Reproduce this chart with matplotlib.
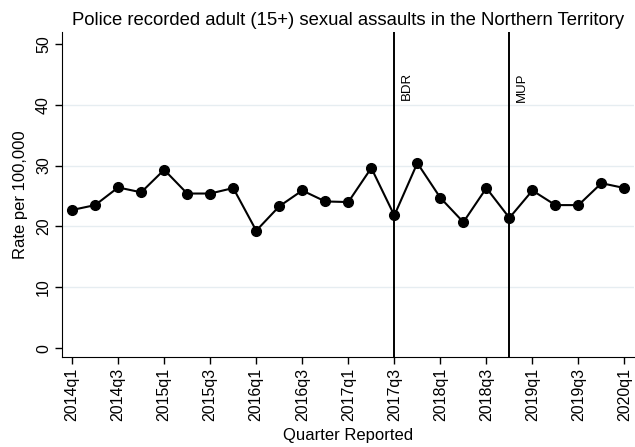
import matplotlib
matplotlib.use("Agg")
import matplotlib.pyplot as plt

plt.rcParams['font.family'] = ['Liberation Sans', 'DejaVu Sans']

# quarterly data 2014q1 - 2020q1
quarters = ['2014q1', '2014q2', '2014q3', '2014q4',
            '2015q1', '2015q2', '2015q3', '2015q4',
            '2016q1', '2016q2', '2016q3', '2016q4',
            '2017q1', '2017q2', '2017q3', '2017q4',
            '2018q1', '2018q2', '2018q3', '2018q4',
            '2019q1', '2019q2', '2019q3', '2019q4',
            '2020q1']
rate = [22.7, 23.5, 26.4, 25.6,
        29.3, 25.4, 25.4, 26.3,
        19.3, 23.3, 25.9, 24.1,
        24.0, 29.6, 21.8, 30.4,
        24.7, 20.7, 26.3, 21.4,
        25.9, 23.5, 23.5, 27.1,
        26.3]
events = ['2017q3', '2018q4']
event_labels = ['BDR', 'MUP']

x = list(range(len(quarters)))

fig = plt.figure(figsize=(6.35, 4.47), dpi=100)
ax = fig.add_axes([0.098, 0.202, 0.901, 0.726])

for g in [10, 20, 30, 40]:
    ax.axhline(g, color='#e6edf1', lw=1.0, zorder=0)

ax.plot(x, rate, color='black', lw=1.5, marker='o', markersize=7, zorder=3)

for q, lab in zip(events, event_labels):
    xi = quarters.index(q)
    ax.axvline(xi, color='black', lw=1.4, zorder=2)
    ax.text(xi + 0.3, 45.3, lab, rotation=90, ha='left', va='top', fontsize=9.5)

ax.set_xlim(-0.43, 24.43)
ax.set_ylim(-1.4, 51.9)
ax.set_xticks(x[::2])
ax.set_xticklabels(quarters[::2], rotation=90, fontsize=11.5)
ax.set_yticks([0, 10, 20, 30, 40, 50])
ax.set_yticklabels(['0', '10', '20', '30', '40', '50'], rotation=90, va='center', fontsize=11.5)
ax.tick_params(direction='out', length=5, width=1, pad=3)

ax.spines['top'].set_visible(False)
ax.spines['right'].set_visible(False)

ax.set_xlabel('Quarter Reported', fontsize=12, labelpad=5)
ax.set_ylabel('Rate per 100,000', fontsize=12, labelpad=6)
ax.set_title('Police recorded adult (15+) sexual assaults in the Northern Territory', fontsize=13.3, pad=5)

fig.savefig('out.png', dpi=100)
